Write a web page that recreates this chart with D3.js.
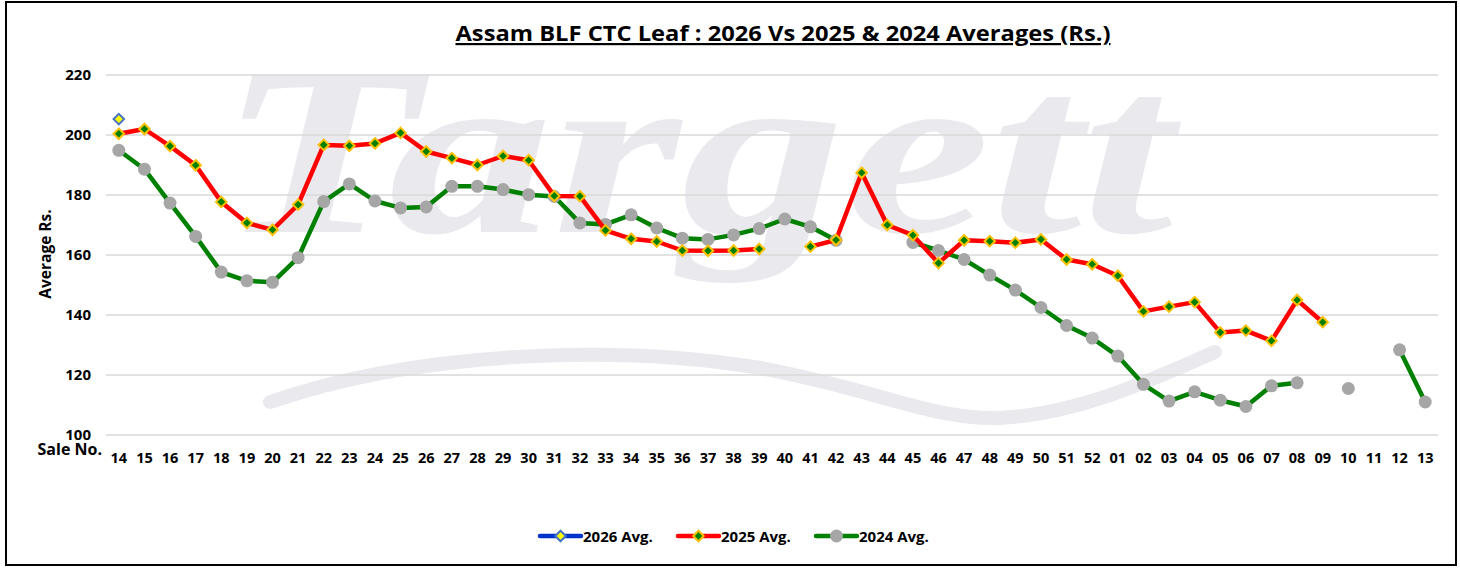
<!DOCTYPE html>
<html>
<head>
<meta charset="utf-8">
<script src="https://cdn.jsdelivr.net/npm/d3@7"></script>
<style>
  body { margin: 0; background: #fff; }
  svg text { font-family: "Open Sans", "Liberation Sans", sans-serif; }
</style>
</head>
<body>
<svg id="chart" width="1460" height="569"></svg>
<script>
const saleNos = ['14','15','16','17','18','19','20','21','22','23','24','25','26','27','28','29','30','31','32','33',
  '34','35','36','37','38','39','40','41','42','43','44','45','46','47','48','49','50','51','52',
  '01','02','03','04','05','06','07','08','09','10','11','12','13'];

const avg2026 = [205.3, null, null, null, null, null, null, null, null, null, null, null, null, null, null, null, null, null, null, null,
  null, null, null, null, null, null, null, null, null, null, null, null, null, null, null, null, null, null, null,
  null, null, null, null, null, null, null, null, null, null, null, null, null];

const avg2025 = [200.4, 202, 196.3, 189.9, 177.7, 170.7, 168.4, 176.8, 196.7, 196.4, 197.2, 200.7, 194.5, 192.3, 190, 193, 191.6, 179.7, 179.6, 168.2,
  165.4, 164.5, 161.5, 161.4, 161.5, 162, null, 162.8, 165, 187.4, 170, 166.6, 157.3, 164.9, 164.6, 164.1, 165.2, 158.5, 156.9,
  153.1, 141.2, 142.8, 144.3, 134.2, 134.8, 131.4, 145, 137.6, null, null, null, null];

const avg2024 = [194.9, 188.6, 177.3, 166.2, 154.3, 151.4, 150.9, 159.1, 177.8, 183.7, 178, 175.7, 176, 182.9, 182.9, 181.8, 180.1, 179.5, 170.7, 170.2,
  173.4, 169, 165.6, 165.2, 166.7, 168.8, 172, 169.4, 164.9, null, null, 164.2, 161.5, 158.5, 153.3, 148.3, 142.5, 136.5, 132.3,
  126.3, 116.9, 111.3, 114.4, 111.6, 109.5, 116.4, 117.4, null, 115.5, null, 128.4, 111];

const yTicks = [100, 120, 140, 160, 180, 200, 220];

const svg = d3.select('#chart');

// outer frame
svg.append('rect')
  .attr('x', 6).attr('y', 2).attr('width', 1450).attr('height', 563)
  .attr('fill', '#fff').attr('stroke', '#000').attr('stroke-width', 2);

const plot = { left: 106, right: 1438, top: 75, bottom: 435 };

const x = d3.scaleBand().domain(saleNos).range([plot.left, plot.right]);
const y = d3.scaleLinear().domain([100, 220]).range([plot.bottom, plot.top]);
const cx = d => x(d) + x.bandwidth() / 2;

// watermark
const wm = svg.append('g').attr('opacity', 0.5);
wm.append('text')
  .attr('x', 218).attr('y', 232)
  .attr('textLength', 955).attr('lengthAdjust', 'spacingAndGlyphs')
  .style('font-family', '"Liberation Serif", "DejaVu Serif", serif')
  .style('font-weight', 'bold').style('font-style', 'italic')
  .style('font-size', '240px').attr('fill', '#d6d6de')
  .text('Targett');
wm.append('path')
  .attr('d', 'M270,402 C420,350 620,345 760,368 C880,390 930,420 1000,418 C1080,414 1150,380 1215,352')
  .attr('fill', 'none').attr('stroke', '#d6d6de').attr('stroke-width', 14).attr('stroke-linecap', 'round');

// gridlines
svg.append('g')
  .selectAll('line').data(yTicks).join('line')
  .attr('x1', plot.left).attr('x2', plot.right)
  .attr('y1', d => y(d)).attr('y2', d => y(d))
  .attr('stroke', '#d9d9d9').attr('stroke-width', 1.5);

// y axis
const yAxis = svg.append('g')
  .attr('transform', `translate(${plot.left - 15},0)`)
  .call(d3.axisLeft(y).tickValues(yTicks).tickSize(0).tickPadding(0));
yAxis.select('.domain').remove();
yAxis.selectAll('text')
  .style('font-size', '15px').style('font-weight', 'bold').attr('fill', '#000');

// x axis
const xAxis = svg.append('g')
  .attr('transform', `translate(0,${plot.bottom + 18})`)
  .call(d3.axisBottom(x).tickSize(0).tickPadding(0));
xAxis.select('.domain').remove();
xAxis.selectAll('text')
  .attr('y', 0).attr('dy', '0.71em')
  .style('font-size', '14.5px').style('font-weight', 'bold').attr('fill', '#000');

svg.append('text')
  .attr('x', 102).attr('y', 455).attr('text-anchor', 'end')
  .style('font-size', '16px').style('font-weight', 'bold')
  .text('Sale No.');

svg.append('text')
  .attr('transform', 'translate(51,254) rotate(-90)')
  .attr('text-anchor', 'middle')
  .style('font-size', '15.5px').style('font-weight', 'bold')
  .text('Average Rs.');

// title
svg.append('text')
  .attr('x', 783).attr('y', 41).attr('text-anchor', 'middle')
  .attr('textLength', 655).attr('lengthAdjust', 'spacingAndGlyphs')
  .style('font-size', '22px').style('font-weight', 'bold')
  .attr('text-decoration', 'underline')
  .text('Assam BLF CTC Leaf : 2026 Vs 2025 & 2024 Averages (Rs.)');

const line = d3.line()
  .defined(d => d.v != null)
  .x(d => cx(d.k))
  .y(d => y(d.v));

const series = [
  { name: '2026 Avg.', values: avg2026, stroke: '#0033cc', marker: 'diamond', fill: '#ffff00', edge: '#4472c4' },
  { name: '2025 Avg.', values: avg2025, stroke: '#ff0000', marker: 'diamond', fill: '#008000', edge: '#ffc000' },
  { name: '2024 Avg.', values: avg2024, stroke: '#008000', marker: 'circle', fill: '#a6a6a6', edge: '#a6a6a6' }
];

const diamond = d3.symbol().type(d3.symbolDiamond2).size(70);

function drawMarker(g, s, px, py) {
  if (s.marker === 'circle') {
    g.append('circle').attr('cx', px).attr('cy', py).attr('r', 6.5).attr('fill', s.fill);
  } else {
    g.append('path').attr('d', diamond()).attr('transform', `translate(${px},${py})`)
      .attr('fill', s.fill).attr('stroke', s.edge).attr('stroke-width', 2);
  }
}

// draw 2024 first so 2025 sits on top
[series[2], series[1], series[0]].forEach(s => {
  const pts = saleNos.map((k, i) => ({ k, v: s.values[i] }));
  svg.append('path').datum(pts)
    .attr('d', line)
    .attr('fill', 'none').attr('stroke', s.stroke).attr('stroke-width', 4.5)
    .attr('stroke-linejoin', 'round');
  const g = svg.append('g');
  pts.filter(d => d.v != null).forEach(d => drawMarker(g, s, cx(d.k), y(d.v)));
});

// legend
const legendX = [540, 678, 816];
series.forEach((s, i) => {
  const g = svg.append('g').attr('transform', `translate(${legendX[i]},536)`);
  g.append('line').attr('x1', 0).attr('x2', 41).attr('y1', 0).attr('y2', 0)
    .attr('stroke', s.stroke).attr('stroke-width', 4.5).attr('stroke-linecap', 'round');
  drawMarker(g, s, 20.5, 0);
  g.append('text').attr('x', 43).attr('y', 5.5)
    .style('font-size', '15px').style('font-weight', 'bold')
    .text(s.name);
});
</script>
</body>
</html>
